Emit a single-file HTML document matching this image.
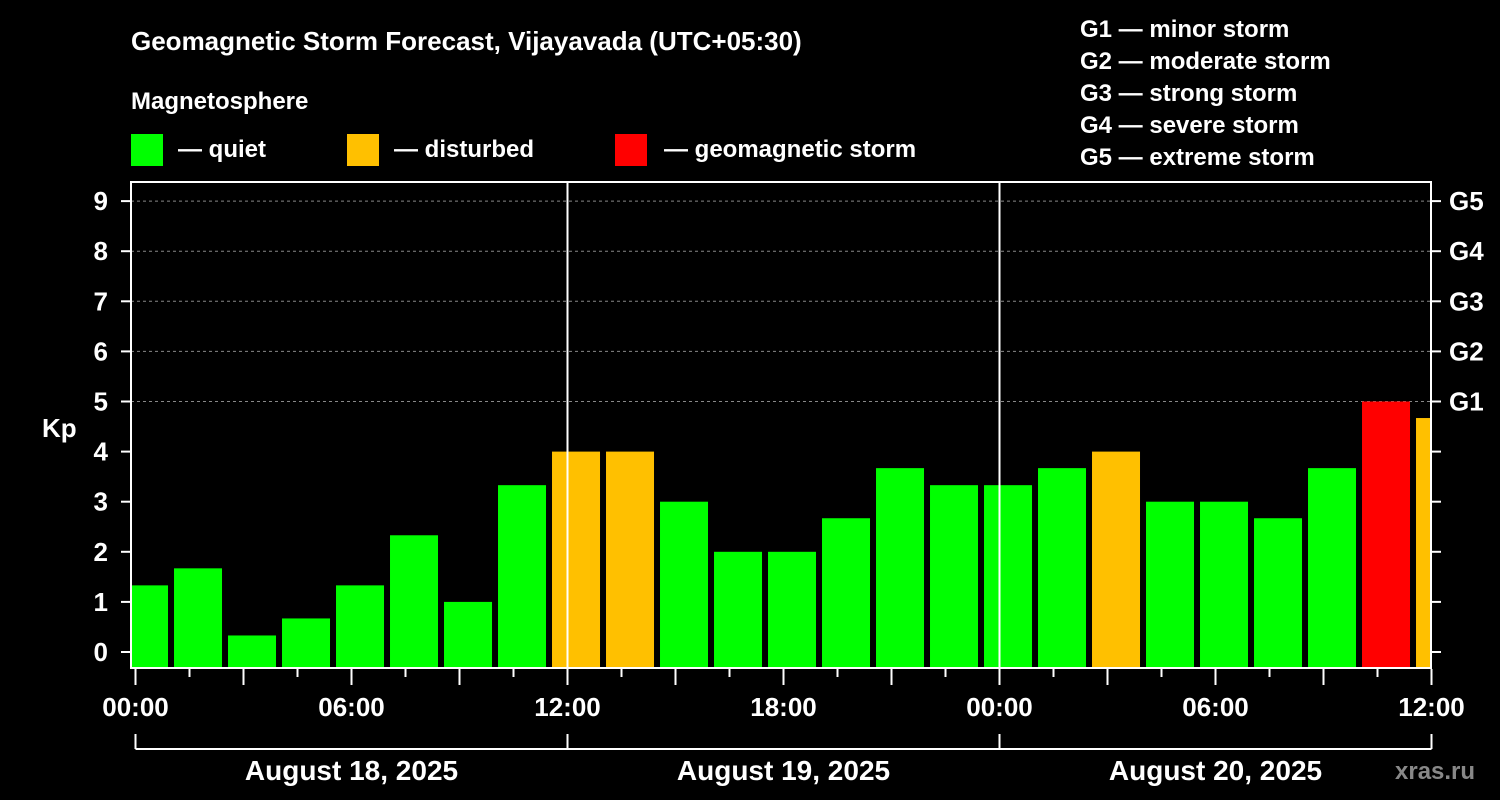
<!DOCTYPE html>
<html><head><meta charset="utf-8"><style>
html,body{margin:0;padding:0;background:#000;}
svg{display:block;font-family:"Liberation Sans",Arial,sans-serif;font-weight:bold;}
</style></head><body>
<svg width="1500" height="800" viewBox="0 0 1500 800">
<text x="131" y="50" fill="#fff" font-size="26">Geomagnetic Storm Forecast, Vijayavada (UTC+05:30)</text>
<text x="131" y="109" fill="#fff" font-size="24">Magnetosphere</text>
<rect x="131" y="134" width="32" height="32" fill="#00ff00"/>
<text x="178" y="157" fill="#fff" font-size="24">— quiet</text>
<rect x="347" y="134" width="32" height="32" fill="#ffc000"/>
<text x="394" y="157" fill="#fff" font-size="24">— disturbed</text>
<rect x="615" y="134" width="32" height="32" fill="#ff0000"/>
<text x="664" y="157" fill="#fff" font-size="24">— geomagnetic storm</text>
<g fill="#fff" font-size="24">
<text x="1080" y="37">G1 — minor storm</text>
<text x="1080" y="69">G2 — moderate storm</text>
<text x="1080" y="101">G3 — strong storm</text>
<text x="1080" y="133">G4 — severe storm</text>
<text x="1080" y="165">G5 — extreme storm</text>
</g>
<text x="42" y="437" fill="#fff" font-size="26">Kp</text>
<g id="grid"></g>
<defs><clipPath id="pc"><rect x="132" y="182" width="1298" height="486"/></clipPath></defs>
<g id="bars" clip-path="url(#pc)"></g>
<g id="axes"></g>
<text x="1395" y="779" fill="#888" font-size="24">xras.ru</text>
</svg>
<script>
const kpValues=[1.33,1.67,0.33,0.67,1.33,2.33,1,3.33,4,4,3,2,2,2.67,3.67,3.33,3.33,3.67,4,3,3,2.67,3.67,5,4.67];
const yTicks=[0,1,2,3,4,5,6,7,8,9];
const gLabels=["G1","G2","G3","G4","G5"];
const gLevels=[5,6,7,8,9];
const hourLabels=["00:00","06:00","12:00","18:00","00:00","06:00","12:00","18:00","00:00","06:00","12:00","18:00","00:00"];
const dayLabels=["August 18, 2025","August 19, 2025","August 20, 2025"];
const NS="http://www.w3.org/2000/svg";
const x0=135.5,pxPerHour=18,y0=652,pxPerKp=50.1;
const xs=h=>x0+h*pxPerHour;
const ys=v=>y0-v*pxPerKp;
function mk(t,a,p){const e=document.createElementNS(NS,t);for(const k in a)e.setAttribute(k,a[k]);p.appendChild(e);return e;}
const grid=document.getElementById('grid'),bars=document.getElementById('bars'),axes=document.getElementById('axes');
gLevels.forEach((v,i)=>{
 const l=mk('line',{x1:131,x2:1431,y1:ys(v),y2:ys(v),stroke:'#888','stroke-dasharray':'3,3','stroke-width':1},grid);
 
 
 const t=mk('text',{x:1449,y:ys(v)+9,fill:'#fff','font-size':26},axes);t.textContent=gLabels[i];
 
 
});
kpValues.forEach((v,i)=>{
 const start=-0.888+3*i;
 const c=v>=5?'#ff0000':(v>=4?'#ffc000':'#00ff00');
 const r=mk('rect',{x:xs(start)+0.5,y:ys(v),width:48,height:667-ys(v),fill:c},bars);
 
 
});
mk('rect',{x:131,y:182,width:1300,height:486,fill:'none',stroke:'#fff','stroke-width':2},axes);
[1,2].forEach(d=>{const l=mk('line',{x1:xs(24*d),x2:xs(24*d),y1:182,y2:668,stroke:'#fff','stroke-width':2},axes);
 
 });
yTicks.forEach(v=>{
 mk('line',{x1:121,x2:131,y1:ys(v),y2:ys(v),stroke:'#fff','stroke-width':2},axes);
 mk('line',{x1:1431,x2:1441,y1:ys(v),y2:ys(v),stroke:'#fff','stroke-width':2},axes);
 const t=mk('text',{x:108,y:ys(v)+9,fill:'#fff','font-size':26,'text-anchor':'end'},axes);t.textContent=v;
 
 
});
for(let h=0;h<=72;h+=3){mk('line',{x1:xs(h),x2:xs(h),y1:669,y2:h%6==0?685:677,stroke:'#fff','stroke-width':2},axes);}
hourLabels.forEach((s,i)=>{const t=mk('text',{x:xs(6*i*2),y:716,fill:'#fff','font-size':26,'text-anchor':'middle'},axes);t.textContent=s;
 
 });
mk('line',{x1:xs(0),x2:xs(72),y1:749,y2:749,stroke:'#fff','stroke-width':2},axes);
[0,24,48,72].forEach(h=>mk('line',{x1:xs(h),x2:xs(h),y1:734,y2:749,stroke:'#fff','stroke-width':2},axes));
dayLabels.forEach((s,i)=>{const t=mk('text',{x:xs(24*i+12),y:780,fill:'#fff','font-size':28,'text-anchor':'middle'},axes);t.textContent=s;
 
 });
</script>
</body></html>
